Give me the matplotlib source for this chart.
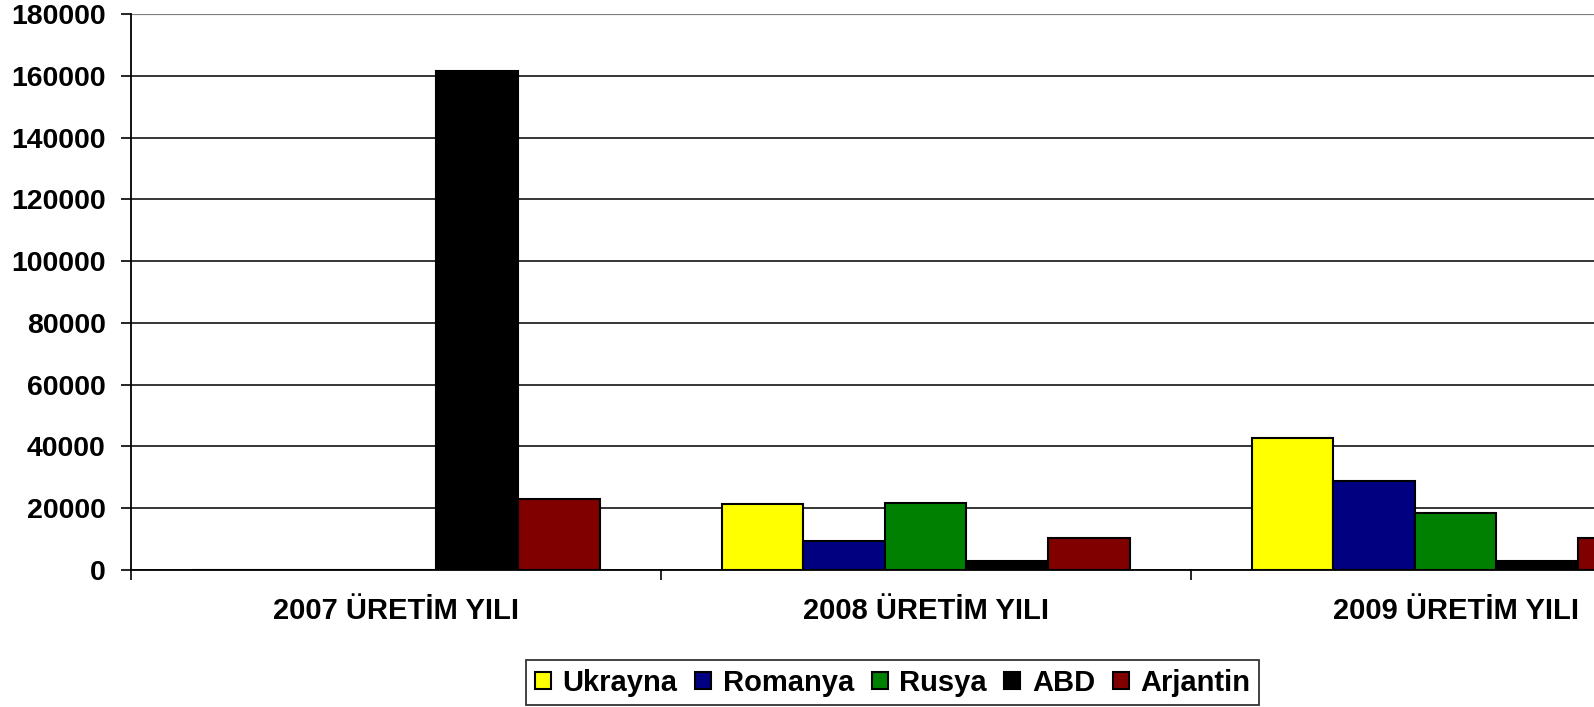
import numpy as np
import matplotlib
matplotlib.use('Agg')
import matplotlib.pyplot as plt

categories = ['2007 ÜRETİM YILI', '2008 ÜRETİM YILI', '2009 ÜRETİM YILI']
series = ['Ukrayna', 'Romanya', 'Rusya', 'ABD', 'Arjantin']
ukrayna = [0, 21300, 42600]
romanya = [0, 9300, 28800]
rusya = [0, 21500, 18300]
abd = [161600, 2800, 2800]
arjantin = [22900, 10300, 10300]
colors = ['#FFFF00', '#000080', '#008000', '#000000', '#800000']
yticks = list(range(0, 180001, 20000))

plt.rcParams['font.family'] = ['Liberation Sans', 'DejaVu Sans']
plt.rcParams['font.weight'] = 'bold'

fig = plt.figure(figsize=(15.94, 7.07), dpi=100)
ax = fig.add_axes([0.082, 0.1943, 0.9975, 0.7854])

x = np.arange(len(categories))
w = 1 / 6.5
values = [ukrayna, romanya, rusya, abd, arjantin]
for i, (name, vals, c) in enumerate(zip(series, values, colors)):
    ax.bar(x + (i - 2) * w, vals, width=w, color=c, edgecolor='black',
           linewidth=1.5, label=name, zorder=3)

ax.set_xlim(-0.5, 2.5)
ax.set_ylim(0, 180000)
ax.set_yticks(yticks)
ax.set_yticklabels([str(v) for v in yticks], fontsize=20.5, fontweight='bold')
ax.tick_params(axis='y', length=7, width=1.2, pad=11)

ax.set_xticks([-0.5, 0.5, 1.5, 2.5])
ax.set_xticklabels([])
ax.tick_params(axis='x', which='major', length=7, width=1.2)
ax.set_xticks(x, minor=True)
ax.set_xticklabels(categories, minor=True, fontsize=21, fontweight='bold')
ax.tick_params(axis='x', which='minor', length=0, pad=20)

ax.grid(axis='y', color='black', linewidth=1.1, zorder=0)
ax.set_axisbelow(True)
ax.get_ygridlines()[-1].set_color('#808080')
ax.get_ygridlines()[-1].set_linewidth(1.6)
for s in ['top', 'right']:
    ax.spines[s].set_visible(False)
ax.spines['left'].set_linewidth(1.3)
ax.spines['bottom'].set_linewidth(1.3)

leg = fig.legend(loc='center', bbox_to_anchor=(0.560, 0.0345), ncol=5,
                 fontsize=21, frameon=True, fancybox=False, shadow=False,
                 handlelength=0.55, handleheight=0.55, handletextpad=0.4,
                 columnspacing=0.6, borderpad=0.3, borderaxespad=0)
leg.get_frame().set_edgecolor('black')
leg.get_frame().set_linewidth(1.3)
for t in leg.get_texts():
    t.set_fontweight('bold')

fig.savefig('out.png', dpi=100)
